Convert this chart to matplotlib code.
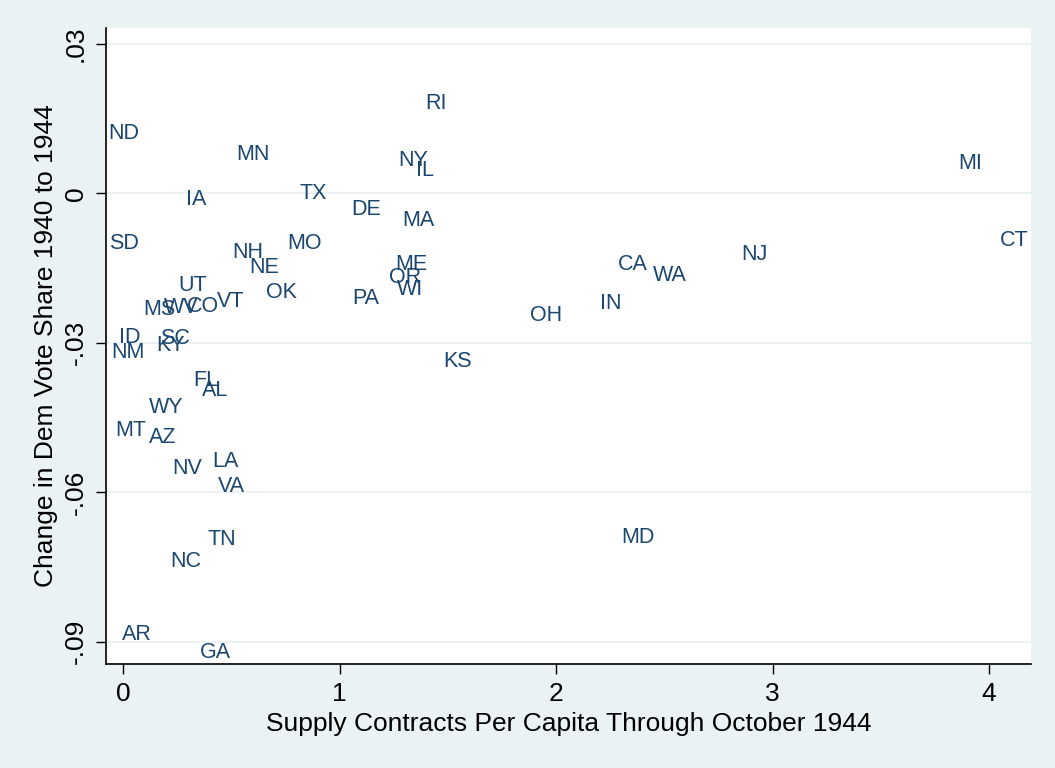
import matplotlib
matplotlib.use("Agg")
import matplotlib.pyplot as plt

# state abbreviations, supply contracts per capita, change in Dem share
states = ["RI", "ND", "MN", "NY", "IL", "MI", "TX", "IA", "DE", "MA",
          "SD", "MO", "NH", "NE", "ME", "OR", "WI", "PA", "CA", "WA",
          "NJ", "IN", "OH", "CT", "UT", "OK", "MS", "WV", "CO", "VT",
          "ID", "NM", "SC", "KY", "KS", "FL", "AL", "WY", "MT", "AZ",
          "NV", "LA", "VA", "TN", "NC", "MD", "AR", "GA"]
contracts = [1.446, 0.005, 0.600, 1.338, 1.396, 3.912, 0.879, 0.337, 1.122, 1.363,
             0.005, 0.836, 0.578, 0.651, 1.331, 1.304, 1.326, 1.122, 2.353, 2.527,
             2.915, 2.254, 1.954, 4.116, 0.321, 0.730, 0.169, 0.271, 0.370, 0.499,
             0.031, 0.025, 0.242, 0.219, 1.543, 0.381, 0.427, 0.199, 0.035, 0.183,
             0.298, 0.473, 0.499, 0.456, 0.292, 2.379, 0.065, 0.425]
dem_change = [0.0185, 0.0125, 0.0084, 0.0072, 0.0051, 0.0065, 0.0005, -0.0008, -0.0028, -0.0050,
              -0.0095, -0.0095, -0.0113, -0.0143, -0.0137, -0.0164, -0.0187, -0.0207, -0.0137, -0.0159,
              -0.0117, -0.0216, -0.0240, -0.0090, -0.0180, -0.0194, -0.0228, -0.0224, -0.0222, -0.0212,
              -0.0284, -0.0314, -0.0287, -0.0301, -0.0332, -0.0371, -0.0391, -0.0424, -0.0471, -0.0485,
              -0.0548, -0.0533, -0.0584, -0.0689, -0.0734, -0.0685, -0.0881, -0.0916]

x_ticks = [0, 1, 2, 3, 4]
y_ticks = [-0.09, -0.06, -0.03, 0, 0.03]
y_ticklabels = ["-.09", "-.06", "-.03", "0", ".03"]

bg = "#EAF2F3"
navy = "#1A476F"
plt.rcParams["font.family"] = ["Liberation Sans", "DejaVu Sans"]

fig = plt.figure(figsize=(10.55, 7.68), dpi=100, facecolor=bg)
ax = fig.add_axes([0.1005, 0.1354, 0.8768, 0.8281])
ax.set_facecolor("white")

for s, x, y in zip(states, contracts, dem_change):
    ax.text(x, y, s, ha="center", va="center_baseline", fontsize=15.5, color=navy)

ax.set_xlim(-0.0785, 4.194)
ax.set_ylim(-0.0945, 0.0332)
ax.set_xticks(x_ticks)
ax.set_yticks(y_ticks)
ax.set_yticklabels(y_ticklabels, rotation=90, va="center")
ax.tick_params(axis="both", labelsize=19, length=7, width=1, pad=6, colors="black")
ax.yaxis.grid(True, color=bg, linewidth=1.5)
ax.set_axisbelow(True)
for side in ["top", "right"]:
    ax.spines[side].set_visible(False)
for side in ["left", "bottom"]:
    ax.spines[side].set_linewidth(1.2)

ax.set_xlabel("Supply Contracts Per Capita Through October 1944", fontsize=19, labelpad=4)
ax.set_ylabel("Change in Dem Vote Share 1940 to 1944", fontsize=19, labelpad=4)

fig.savefig("out.png", dpi=100, facecolor=bg)
